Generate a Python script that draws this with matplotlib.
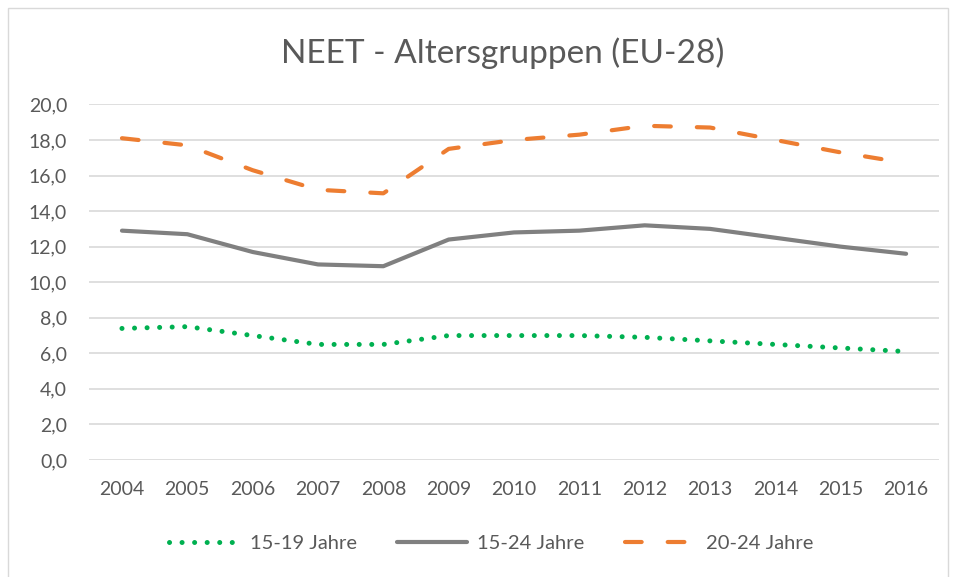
import matplotlib.pyplot as plt
from matplotlib.patches import Rectangle

plt.rcParams['font.family'] = ['Lato', 'DejaVu Sans']

# Daten
jahre = ['2004', '2005', '2006', '2007', '2008', '2009', '2010',
         '2011', '2012', '2013', '2014', '2015', '2016']
neet_15_19 = [7.4, 7.5, 7.0, 6.5, 6.5, 7.0, 7.0, 7.0, 6.9, 6.7, 6.5, 6.3, 6.1]
neet_15_24 = [12.9, 12.7, 11.7, 11.0, 10.9, 12.4, 12.8, 12.9, 13.2, 13.0, 12.5, 12.0, 11.6]
neet_20_24 = [18.1, 17.7, 16.3, 15.2, 15.0, 17.5, 18.0, 18.3, 18.8, 18.7, 18.0, 17.3, 16.7]
y_ticks = [0, 2, 4, 6, 8, 10, 12, 14, 16, 18, 20]

textfarbe = '#595959'

fig = plt.figure(figsize=(9.55, 5.77), dpi=100)
ax = fig.add_axes([0.0935, 0.2028, 0.8895, 0.6162])

x = range(len(jahre))
ax.plot(x, neet_15_19, color='#00b050', lw=3.6, linestyle=(0, (0.01, 2.5)),
        dash_capstyle='round', label='15-19 Jahre')
ax.plot(x, neet_15_24, color='#808080', lw=3, solid_capstyle='round',
        label='15-24 Jahre')
ax.plot(x, neet_20_24, color='#ed7d31', lw=3, linestyle=(0, (4, 6.25)),
        dash_capstyle='round', label='20-24 Jahre')

ax.set_xlim(-0.5, len(jahre) - 0.5)
ax.set_ylim(0, 20)
ax.set_yticks(y_ticks)
ax.set_yticklabels([f'{v:.1f}'.replace('.', ',') for v in y_ticks])
ax.set_xticks(list(x))
ax.set_xticklabels(jahre)
ax.grid(axis='y', color='#d9d9d9', lw=1.2)
ax.set_axisbelow(True)
for s in ax.spines.values():
    s.set_visible(False)
ax.tick_params(length=0, labelsize=14, colors=textfarbe)
ax.tick_params(axis='y', pad=16)
ax.tick_params(axis='x', pad=15)

fig.text(503 / 955, (577 - 63) / 577, 'NEET - Altersgruppen (EU-28)',
         ha='center', va='baseline', fontsize=24, color=textfarbe)

fig.legend(loc='center', bbox_to_anchor=(491 / 955, (577 - 543) / 577),
           ncol=3, frameon=False, fontsize=14.5, labelcolor=textfarbe,
           handlelength=3.5, handletextpad=0.5, columnspacing=2.0)

# Rahmen um das Diagramm
fig.patches.append(Rectangle((8 / 955, -0.01), 940 / 955, 1 - 8 / 577 + 0.01,
                             transform=fig.transFigure, fill=False,
                             edgecolor='#d9d9d9', lw=1))

fig.savefig('out.png', dpi=100)
